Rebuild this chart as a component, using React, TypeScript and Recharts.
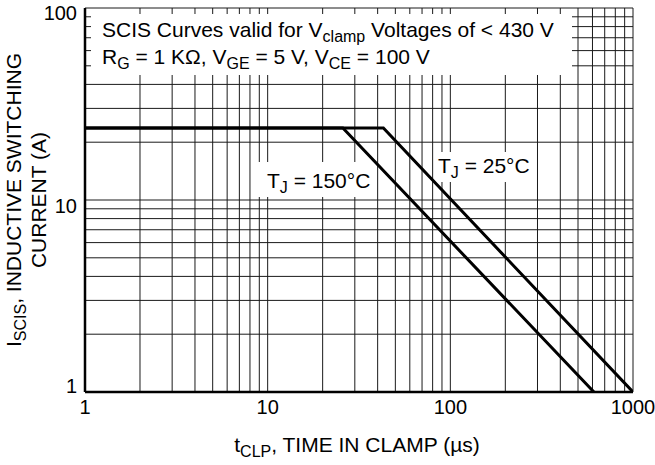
import { LineChart, Line, XAxis, YAxis, CartesianGrid } from 'recharts';

// time in clamp (µs) grid / ticks
const xTicks = [1, 2, 3, 4, 5, 6, 7, 8, 9, 10, 20, 30, 40, 50, 60, 70, 80, 90, 100, 200, 300, 400, 500, 600, 700, 800, 900, 1000];
// current (A) grid / ticks
const yTicks = [1, 2, 3, 4, 5, 6, 7, 8, 9, 10, 20, 30, 40, 50, 60, 70, 80, 90, 100];
const decadeLabels = [1, 10, 100, 1000];

// TJ = 150 °C
const tj150Time = [1, 25.8, 611];
const tj150Current = [23.7, 23.7, 1];
// TJ = 25 °C
const tj25Time = [1, 43, 1000];
const tj25Current = [23.7, 23.7, 1];

const tj150 = tj150Time.map((t, k) => ({ t, i: tj150Current[k] }));
const tj25 = tj25Time.map((t, k) => ({ t, i: tj25Current[k] }));

const FONT = '"Liberation Sans", Arial, Helvetica, sans-serif';
const fmt = (v: number) => (decadeLabels.includes(v) ? String(v) : '');

// the datasheet nudges its y labels a little off the grid lines
const yLabelShift: Record<number, number> = { 1: -6, 10: 6, 100: 5 };

function YTick(props: any) {
  const { x, y, payload } = props;
  const v = payload.value as number;
  if (!decadeLabels.includes(v)) return null;
  return (
    <text x={x} y={y + (yLabelShift[v] ?? 0)} dy="0.355em" textAnchor="end" fontSize={20} fill="#000">
      {v}
    </text>
  );
}

export default function App() {
  return (
    <div style={{ position: 'absolute', left: 0, top: 0, width: 655, height: 465, fontFamily: FONT, background: '#fff' }}>
      <LineChart width={655} height={465} margin={{ top: 8, right: 22, bottom: 0, left: 0 }}>
        <CartesianGrid stroke="#1a1a1a" strokeWidth={1} />
        <XAxis
          type="number"
          dataKey="t"
          scale="log"
          domain={[1, 1000]}
          ticks={xTicks}
          interval={0}
          allowDataOverflow
          tickFormatter={fmt}
          height={73}
          tickLine={false}
          tick={{ fill: '#000', fontSize: 20 }}
          axisLine={{ stroke: '#000', strokeWidth: 2.5 }}
        />
        <YAxis
          type="number"
          dataKey="i"
          scale="log"
          domain={[1, 100]}
          ticks={yTicks}
          interval={0}
          allowDataOverflow
          width={85}
          tickLine={false}
          tick={<YTick />}
          axisLine={{ stroke: '#000', strokeWidth: 2.5 }}
        />
        <Line data={tj150} dataKey="i" type="linear" stroke="#000" strokeWidth={3} dot={false} isAnimationActive={false} />
        <Line data={tj25} dataKey="i" type="linear" stroke="#000" strokeWidth={3} dot={false} isAnimationActive={false} />
      </LineChart>

      <svg width={655} height={465} style={{ position: 'absolute', left: 0, top: 0, pointerEvents: 'none' }} fontFamily={FONT} fill="#000">
        {/* conditions box */}
        <rect x={91} y={14} width={481} height={61} fill="#fff" />
        <text x={102} y={37} fontSize={21}>
          SCIS Curves valid for V<tspan fontSize={16} dy={5}>clamp</tspan>
          <tspan dy={-5}> Voltages of &lt; 430 V</tspan>
        </text>
        <text x={102} y={64} fontSize={21}>
          R<tspan fontSize={16} dy={5}>G</tspan>
          <tspan dy={-5}> = 1 KΩ, V</tspan>
          <tspan fontSize={16} dy={5}>GE</tspan>
          <tspan dy={-5}> = 5 V, V</tspan>
          <tspan fontSize={16} dy={5}>CE</tspan>
          <tspan dy={-5}> = 100 V</tspan>
        </text>

        {/* curve labels */}
        <rect x={257} y={162} width={114} height={35} fill="#fff" />
        <text x={267} y={188} fontSize={21}>
          T<tspan fontSize={16} dy={5}>J</tspan>
          <tspan dy={-5}> = 150°C</tspan>
        </text>
        <rect x={437.5} y={152} width={98} height={30} fill="#fff" />
        <text x={438} y={173} fontSize={21}>
          T<tspan fontSize={16} dy={5}>J</tspan>
          <tspan dy={-5}> = 25°C</tspan>
        </text>

        {/* axis titles */}
        <text x={357} y={452} fontSize={21} textAnchor="middle">
          t<tspan fontSize={16} dy={5}>CLP</tspan>
          <tspan dy={-5}>, TIME IN CLAMP (µs)</tspan>
        </text>
        <text x={21} y={200} fontSize={21} textAnchor="middle" transform="rotate(-90, 21, 200)">
          I<tspan fontSize={16} dy={5}>SCIS</tspan>
          <tspan dy={-5}>, INDUCTIVE SWITCHING</tspan>
        </text>
        <text x={46} y={200} fontSize={21} textAnchor="middle" transform="rotate(-90, 46, 200)">
          CURRENT (A)
        </text>
      </svg>
    </div>
  );
}
